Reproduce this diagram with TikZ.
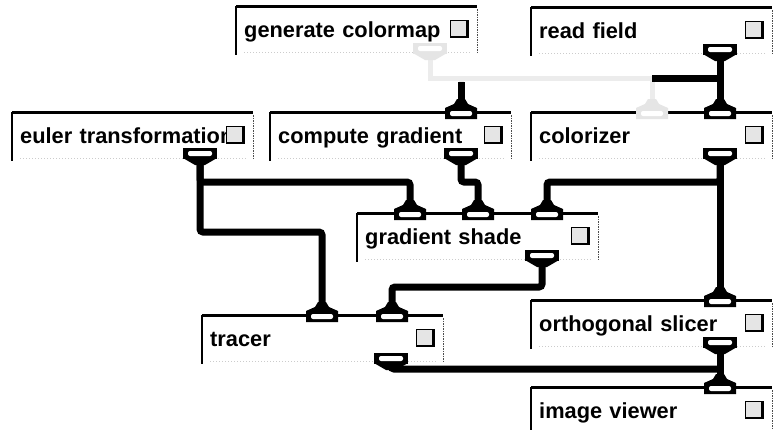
\documentclass[tikz,border=0pt]{standalone}
\usepackage{fontspec}
\setmainfont{Liberation Sans}
\usetikzlibrary{calc}

% network editor look: modules, ports, wires
\tikzset{
  module/.style={anchor=north west, minimum width=241pt, minimum height=46pt,
    text width=225pt, align=left, inner xsep=8pt, inner ysep=0pt,
    text height=18pt, text depth=2pt,
    font=\fontsize{21.8}{26}\selectfont\bfseries},
  modtop/.style={line width=3pt},
  modleft/.style={line width=2.5pt},
  modright/.style={line width=1.5pt, black!70, densely dotted},
  modbottom/.style={line width=1pt, gray!40, dotted},
  button/.style={fill=gray!20, draw=black, line width=0.8pt},
  wire/.style={line width=7pt, rounded corners=3pt},
  faintwire/.style={line width=5pt, gray!15},
  inport/.pic={
    \fill (-4,-13) -- (4,-13) -- (7,-8) -- (16,-4) -- (16,7) -- (-16,7)
          -- (-16,-4) -- (-7,-8) -- cycle;
    \fill[white, rounded corners=2pt] (-11,-1) rectangle (11,4);
  },
  outport/.pic={
    \fill (-17,0) rectangle (17,11);
    \fill (-17,10) -- (17,10) -- (5,17) -- (-5,17) -- cycle;
    \fill[white, rounded corners=2pt] (-12,3) rectangle (12,8);
  }
}

\newcommand{\avsmod}[4]{% name, x, y, label
  \node[module] (#1) at (#2,#3) {#4};
  \draw[modtop] (#1.north west) -- (#1.north east);
  \draw[modleft] (#1.north west) -- ([yshift=-3pt]#1.south west);
  \draw[modright] ([yshift=-3pt]#1.north east) -- (#1.south east);
  \draw[modbottom] ([xshift=8pt]#1.south west) -- ([xshift=-8pt]#1.south east);
  \draw[button] ($(#1.north east)+(-27,14)$) rectangle ($(#1.north east)+(-10,31)$);
  \draw[line width=2.5pt] ($(#1.north east)+(-10,14)$) -- ($(#1.north east)+(-10,31)$)
        -- ($(#1.north east)+(-27,31)$);
}

\begin{document}
\begin{tikzpicture}[x=1pt, y=-1pt]
  \useasboundingbox[fill=white] (0,0) rectangle (780,429);

  % modules
  \avsmod{gen}{236}{6}{generate colormap}
  \avsmod{read}{531}{7}{read field}
  \avsmod{euler}{12}{112}{euler transformation}
  \avsmod{compute}{270}{112}{compute gradient}
  \avsmod{colorizer}{531}{112}{colorizer}
  \avsmod{gshade}{357}{213}{gradient shade}
  \avsmod{tracer}{202}{315}{tracer}
  \avsmod{oslicer}{531}{300}{orthogonal slicer}
  \avsmod{viewer}{531}{387}{image viewer}

  % ports
  \coordinate (gen-out) at (430,43);
  \coordinate (read-out) at (720,44);
  \coordinate (euler-out) at (200,148);
  \coordinate (compute-in) at (461,112);
  \coordinate (compute-out) at (461,148);
  \coordinate (colorizer-in1) at (652,112);
  \coordinate (colorizer-in2) at (720,112);
  \coordinate (colorizer-out) at (720,148);
  \coordinate (gshade-in1) at (410,213);
  \coordinate (gshade-in2) at (478,213);
  \coordinate (gshade-in3) at (547,213);
  \coordinate (gshade-out) at (542,250);
  \coordinate (tracer-in1) at (322,315);
  \coordinate (tracer-in2) at (392,315);
  \coordinate (tracer-out) at (391,353);
  \coordinate (oslicer-in) at (720,300);
  \coordinate (oslicer-out) at (720,337);
  \coordinate (viewer-in) at (720,387);

  % bus heights
  \coordinate (bus1) at (0,78);
  \coordinate (bus2) at (0,182);
  \coordinate (bus3) at (0,232);
  \coordinate (bus4) at (0,287);
  \coordinate (bus5) at (0,369);

  % faded wires
  \draw[faintwire] (gen-out) |- (bus1 -| colorizer-in1) -- (colorizer-in1);
  \draw[faintwire] (read-out) |- (bus1 -| compute-in) -- (compute-in);

  % wires
  \draw[wire] (read-out) -- (colorizer-in2);
  \draw[wire] (bus1 -| read-out) -- (bus1 -| colorizer-in1);
  \draw[wire] (compute-in) -- ++(0,-30);
  \draw[wire] (euler-out) |- (bus2 -| gshade-in1) -- (gshade-in1);
  \draw[wire] (euler-out) |- (bus3 -| tracer-in1) -- (tracer-in1);
  \draw[wire] (compute-out) |- (bus2 -| gshade-in2) -- (gshade-in2);
  \draw[wire] (colorizer-out) -- (oslicer-in);
  \draw[wire] (colorizer-out) |- (bus2 -| gshade-in3) -- (gshade-in3);
  \draw[wire] (gshade-out) |- (bus4 -| tracer-in2) -- (tracer-in2);
  \draw[wire] (tracer-out) |- (bus5 -| viewer-in);
  \draw[wire] (oslicer-out) -- (viewer-in);

  % port tabs
  \pic[color=gray!20] at (gen-out) {outport};
  \pic[color=gray!20] at (colorizer-in1) {inport};
  \foreach \p in {read-out, euler-out, compute-out, colorizer-out,
                  gshade-out, tracer-out, oslicer-out}
    \pic at (\p) {outport};
  \foreach \p in {compute-in, colorizer-in2, gshade-in1, gshade-in2, gshade-in3,
                  tracer-in1, tracer-in2, oslicer-in, viewer-in}
    \pic at (\p) {inport};
\end{tikzpicture}
\end{document}
